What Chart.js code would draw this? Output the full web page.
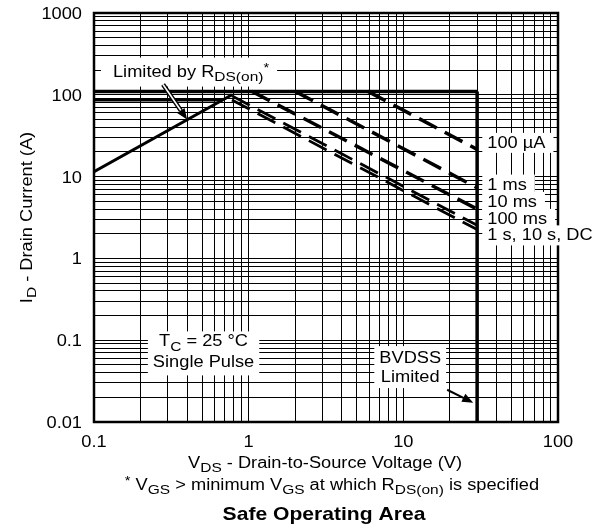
<!DOCTYPE html>
<html>
<head>
<meta charset="utf-8">
<script src="https://cdn.jsdelivr.net/npm/chart.js@4"></script>
<style>
  html, body { margin: 0; padding: 0; background: #fff; }
  canvas { display: block; }
</style>
</head>
<body>
<canvas id="soa" width="605" height="527"></canvas>
<script>
// --- DATA ---
const xTickValues = [0.1, 1, 10, 100];
const xTickLabels = ['0.1', '1', '10', '100'];
const yTickValues = [0.01, 0.1, 1, 10, 100, 1000];
const yTickLabels = ['0.01', '0.1', '1', '10', '100', '1000'];

const rdsV = [0.1, 0.78];    const rdsI = [11.5, 100];
const idmV = [0.1, 30];      const idmI = [110, 110];
const idV = [0.1, 0.68];     const idI = [87, 87];
const bvV = [30, 30];        const bvI = [110, 0.01];
const us100V = [5.9, 30];    const us100I = [110, 21.5];
const ms1V = [2.0, 30];      const ms1I = [110, 7.3];
const ms10V = [1.05, 30];    const ms10I = [110, 4.0];
const ms100V = [0.78, 30];   const ms100I = [97, 2.54];
const dcV = [0.78, 30];      const dcI = [86.5, 2.25];

const pulseLabels = ['100 µA', '1 ms', '10 ms', '100 ms', '1 s, 10 s, DC'];

// --- HELPERS ---
const SX = 1.14; // the original lettering is a little wider than Liberation Sans
const FONT = '"Liberation Sans", Arial, sans-serif';
const pts = (xs, ys) => xs.map((x, i) => ({ x, y: ys[i] }));

function logTicks(min, max) {
    const out = [];
    for (let e = Math.round(Math.log10(min)); e < Math.round(Math.log10(max)); e++)
        for (let m = 1; m < 10; m++) out.push(+(m * Math.pow(10, e)).toPrecision(6));
    out.push(max);
    return out.map(v => ({ value: v }));
}

function line(data, width, dash) {
    return { data, borderColor: '#000', borderWidth: width, borderDash: dash || [],
             borderCapStyle: 'butt', pointRadius: 0, pointHoverRadius: 0, fill: false, tension: 0 };
}

function fontStr(size, bold) { return (bold ? 'bold ' : '') + size + 'px ' + FONT; }
function partSize(size, k) { return k ? size * (k === 1 ? 0.85 : 0.8) : size; }
function toParts(p) { return typeof p === 'string' ? [[p, 0]] : p; }

function partsWidth(ctx, parts, size, bold) {
    let w = 0;
    parts.forEach(([t, k]) => { ctx.font = fontStr(partSize(size, k), bold); w += ctx.measureText(t).width; });
    return w;
}

// parts: [text, 0 normal | 1 subscript | 2 superscript]
function drawText(ctx, p, x, y, o = {}) {
    const parts = toParts(p);
    const size = o.size || 16, bold = !!o.bold, align = o.align || 'left';
    ctx.save();
    ctx.translate(x, y);
    if (o.rotate) ctx.rotate(-Math.PI / 2);
    ctx.scale(SX, 1);
    const w = partsWidth(ctx, parts, size, bold);
    let cx = align === 'center' ? -w / 2 : align === 'right' ? -w : 0;
    ctx.fillStyle = '#000';
    ctx.textBaseline = 'alphabetic';
    ctx.textAlign = 'left';
    parts.forEach(([t, k]) => {
        ctx.font = fontStr(partSize(size, k), bold);
        const dy = k === 1 ? 4.3 : k === 2 ? -5 : 0;
        ctx.fillText(t, cx, dy);
        cx += ctx.measureText(t).width;
    });
    ctx.restore();
    return w * SX;
}

function textWidth(ctx, p, size, bold) { return partsWidth(ctx, toParts(p), size || 16, bold) * SX; }

function whiteBox(ctx, x0, y0, x1, y1) {
    ctx.fillStyle = '#fff';
    ctx.fillRect(x0, y0, x1 - x0, y1 - y0);
}

function arrow(ctx, x0, y0, x1, y1, hollow) {
    const a = Math.atan2(y1 - y0, x1 - x0), L = 11, hw = 4.5;
    const bx = x1 - L * Math.cos(a), by = y1 - L * Math.sin(a);
    ctx.save();
    ctx.lineCap = 'butt';
    ctx.strokeStyle = '#000';
    ctx.lineWidth = hollow ? 4.5 : 2;
    ctx.beginPath(); ctx.moveTo(x0, y0); ctx.lineTo(bx, by); ctx.stroke();
    if (hollow) {
        ctx.strokeStyle = '#fff'; ctx.lineWidth = 1.6;
        ctx.beginPath(); ctx.moveTo(x0, y0); ctx.lineTo(bx, by); ctx.stroke();
    }
    ctx.fillStyle = '#000';
    ctx.beginPath();
    ctx.moveTo(x1, y1);
    ctx.lineTo(bx + hw * Math.sin(a), by - hw * Math.cos(a));
    ctx.lineTo(bx - hw * Math.sin(a), by + hw * Math.cos(a));
    ctx.closePath(); ctx.fill();
    ctx.restore();
}

// --- DECORATION: frame, labels, arrows ---
const soaDecor = {
    id: 'soaDecor',
    beforeDraw(chart) {
        const { ctx, width, height } = chart;
        ctx.save(); ctx.fillStyle = '#fff'; ctx.fillRect(0, 0, width, height); ctx.restore();
    },
    afterDatasetsDraw(chart) {
        const { ctx, chartArea: a, scales: { x, y } } = chart;
        const px = v => x.getPixelForValue(v), py = v => y.getPixelForValue(v);

        ctx.save();
        ctx.strokeStyle = '#000'; ctx.lineWidth = 2.5;
        ctx.strokeRect(a.left, a.top, a.right - a.left, a.bottom - a.top);
        ctx.restore();

        // tick labels
        yTickValues.forEach((v, i) => drawText(ctx, yTickLabels[i], a.left - 12, py(v) + 6, { align: 'right' }));
        xTickValues.forEach((v, i) => drawText(ctx, xTickLabels[i], px(v), a.bottom + 25, { align: 'center' }));

        // axis titles, footnote, caption
        drawText(ctx, [['I', 0], ['D', 1], [' - Drain Current (A)', 0]], 32, (a.top + a.bottom) / 2, { align: 'center', rotate: true });
        drawText(ctx, [['V', 0], ['DS', 1], [' - Drain-to-Source Voltage (V)', 0]], 325, 468, { align: 'center' });
        drawText(ctx, [['*', 2], [' V', 0], ['GS', 1], [' > minimum V', 0], ['GS', 1], [' at which R', 0], ['DS(on)', 1], [' is specified', 0]],
                 332, 490, { align: 'center' });
        drawText(ctx, 'Safe Operating Area', 324, 520, { align: 'center', bold: true, size: 18.5 });

        // Limited by RDS(on)
        const rdsParts = [['Limited by R', 0], ['DS(on)', 1], ['*', 2]];
        const rx = px(0.424), rb = py(167), rw = textWidth(ctx, rdsParts);
        whiteBox(ctx, rx - rw / 2 - 12, rb - 19, rx + rw / 2 + 8, rb + 10);
        drawText(ctx, rdsParts, rx, rb, { align: 'center' });
        arrow(ctx, px(0.2796), py(133.5), px(0.3996), py(49.8), true);

        // TC = 25 °C / Single Pulse
        const tcParts = [['T', 0], ['C', 1], [' = 25 °C', 0]];
        const tx = px(0.511), tb = py(0.084);
        const tw = Math.max(textWidth(ctx, tcParts), textWidth(ctx, 'Single Pulse'));
        whiteBox(ctx, tx - tw / 2 - 5, tb - 15, tx + tw / 2 + 5, tb + 29);
        drawText(ctx, tcParts, tx, tb, { align: 'center' });
        drawText(ctx, 'Single Pulse', tx, tb + 20.5, { align: 'center' });

        // BVDSS Limited
        const bx = px(11.08), bb = py(0.0525);
        const bw = Math.max(textWidth(ctx, 'BVDSS'), textWidth(ctx, 'Limited'));
        whiteBox(ctx, bx - bw / 2 - 5, bb - 17, bx + bw / 2 + 5, bb + 25);
        drawText(ctx, 'BVDSS', bx, bb, { align: 'center' });
        drawText(ctx, 'Limited', bx, bb + 19, { align: 'center' });
        arrow(ctx, px(19.2), py(0.0248), px(28.3), py(0.0172), false);

        // pulse-width labels at the right edge
        const lx = px(34.9);
        const lb = [22.45, 6.94, 4.26, 2.64, 1.66].map(py);
        pulseLabels.forEach((t, i) => {
            const w = textWidth(ctx, t);
            whiteBox(ctx, lx - 5, lb[i] - 15, lx + w + 8, lb[i] + 5);
        });
        pulseLabels.forEach((t, i) => drawText(ctx, t, lx, lb[i]));
    }
};

// --- CHART ---
const gridOpts = { color: '#000', lineWidth: 1, drawTicks: false };

new Chart(document.getElementById('soa').getContext('2d'), {
    type: 'line',
    data: {
        datasets: [
            line(pts(rdsV, rdsI), 3),
            line(pts(idmV, idmI), 3.5),
            line(pts(idV, idI), 3.5),
            line(pts(bvV, bvI), 3.5),
            line(pts(us100V, us100I), 3.5, [20, 9]),
            line(pts(ms1V, ms1I), 3.5, [20, 9]),
            line(pts(ms10V, ms10I), 3.5, [20, 9]),
            line(pts(ms100V, ms100I), 2.8, [20, 9]),
            line(pts(dcV, dcI), 2.8, [20, 9])
        ]
    },
    options: {
        responsive: false,
        animation: false,
        events: [],
        layout: { padding: { left: 0, top: 13, right: 47, bottom: 0 } },
        plugins: { legend: { display: false }, tooltip: { enabled: false } },
        scales: {
            x: {
                type: 'logarithmic', min: 0.1, max: 100,
                afterBuildTicks: s => { s.ticks = logTicks(0.1, 100); },
                afterFit: s => { s.height = 105; },
                ticks: { display: false, autoSkip: false },
                grid: gridOpts,
                border: { display: false }
            },
            y: {
                type: 'logarithmic', min: 0.01, max: 1000,
                afterBuildTicks: s => { s.ticks = logTicks(0.01, 1000); },
                afterFit: s => { s.width = 94; },
                ticks: { display: false, autoSkip: false },
                grid: gridOpts,
                border: { display: false }
            }
        }
    },
    plugins: [soaDecor]
});
</script>
</body>
</html>
